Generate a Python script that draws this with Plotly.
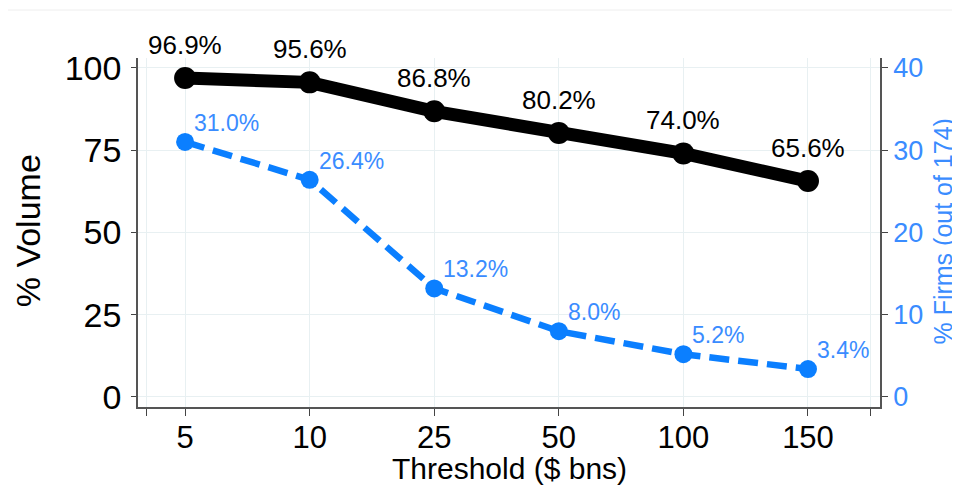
import plotly.graph_objects as go

thresholds = ["5", "10", "25", "50", "100", "150"]
volume_pct = [96.9, 95.6, 86.8, 80.2, 74.0, 65.6]
firms_pct = [31.0, 26.4, 13.2, 8.0, 5.2, 3.4]
left_ticks = [0, 25, 50, 75, 100]
right_ticks = [0, 10, 20, 30, 40]

xpos = list(range(len(thresholds)))
edge_ticks = [-0.31, 5.5]

BLUE = "#0b7fff"
BLUE_TXT = "#3a8cff"
FONT = "Liberation Sans, Arial, sans-serif"

fig = go.Figure()

fig.add_trace(go.Scatter(
    x=xpos, y=volume_pct, mode="lines+markers",
    line=dict(color="black", width=13),
    marker=dict(color="black", size=22),
    yaxis="y", showlegend=False, hoverinfo="skip"))

fig.add_trace(go.Scatter(
    x=xpos, y=firms_pct, mode="lines+markers",
    line=dict(color=BLUE, width=6.5, dash="20px,9px"),
    marker=dict(color=BLUE, size=18),
    yaxis="y2", showlegend=False, hoverinfo="skip"))

annotations = []
for xi, v in zip(xpos, volume_pct):
    annotations.append(dict(x=xi, y=v, xref="x", yref="y", text=f"{v:.1f}%",
                            showarrow=False, yshift=33, xanchor="center", yanchor="middle",
                            font=dict(family=FONT, size=26, color="black")))
for xi, v in zip(xpos, firms_pct):
    annotations.append(dict(x=xi, y=v, xref="x", yref="y2", text=f"{v:.1f}%",
                            showarrow=False, yshift=19, xshift=7, xanchor="left", yanchor="middle",
                            font=dict(family=FONT, size=23, color=BLUE_TXT)))

# axis titles
annotations.append(dict(x=-0.148, y=0.504, xref="paper", yref="paper", text="% Volume",
                        showarrow=False, textangle=-90, xanchor="center", yanchor="middle",
                        font=dict(family=FONT, size=34, color="black")))
annotations.append(dict(x=1.0855, y=0.504, xref="paper", yref="paper", text="% Firms (out of 174)",
                        showarrow=False, textangle=-90, xanchor="center", yanchor="middle",
                        font=dict(family=FONT, size=25, color=BLUE_TXT)))
annotations.append(dict(x=0.5, y=-0.175, xref="paper", yref="paper", text="Threshold ($ bns)",
                        showarrow=False, xanchor="center", yanchor="middle",
                        font=dict(family=FONT, size=30, color="black")))

fig.update_layout(
    width=952, height=477,
    margin=dict(l=130, r=80, t=50, b=78, autoexpand=False),
    paper_bgcolor="white", plot_bgcolor="white",
    font=dict(family=FONT, color="black"),
    annotations=annotations,
    xaxis=dict(
        range=[-0.378, 5.578],
        tickmode="array",
        tickvals=edge_ticks[:1] + xpos + edge_ticks[1:],
        ticktext=[""] + thresholds + [""],
        ticks="outside", ticklen=7, tickcolor="#444", tickwidth=1.3,
        showline=True, linecolor="#555", linewidth=1.5,
        showgrid=True, gridcolor="#e8f0f2", gridwidth=1,
        zeroline=False, automargin=False, ticklabelstandoff=-5,
        tickfont=dict(size=31, family=FONT),
    ),
    yaxis=dict(
        range=[-3.04, 103.0],
        tickmode="array", tickvals=left_ticks,
        ticks="outside", ticklen=5, tickcolor="#444", tickwidth=1.3,
        showline=True, linecolor="#555", linewidth=1.5,
        showgrid=True, gridcolor="#e8f0f2", gridwidth=1,
        zeroline=False, automargin=False, ticklabelstandoff=3,
        tickfont=dict(size=34, family=FONT),
    ),
    yaxis2=dict(
        range=[-1.216, 41.2],
        overlaying="y", side="right",
        tickmode="array", tickvals=right_ticks,
        ticks="outside", ticklen=6, tickcolor="#444", tickwidth=1.3,
        showline=True, linecolor="#555", linewidth=1.5,
        showgrid=False, zeroline=False, automargin=False,
        tickfont=dict(size=27, family=FONT, color=BLUE_TXT),
    ),
    shapes=[dict(type="rect", xref="paper", yref="paper",
                 x0=-0.2, x1=1.2, y0=-0.4, y1=1.1375,
                 line=dict(color="#eeeeee", width=1), layer="below")],
)

fig.write_html("out.html")
